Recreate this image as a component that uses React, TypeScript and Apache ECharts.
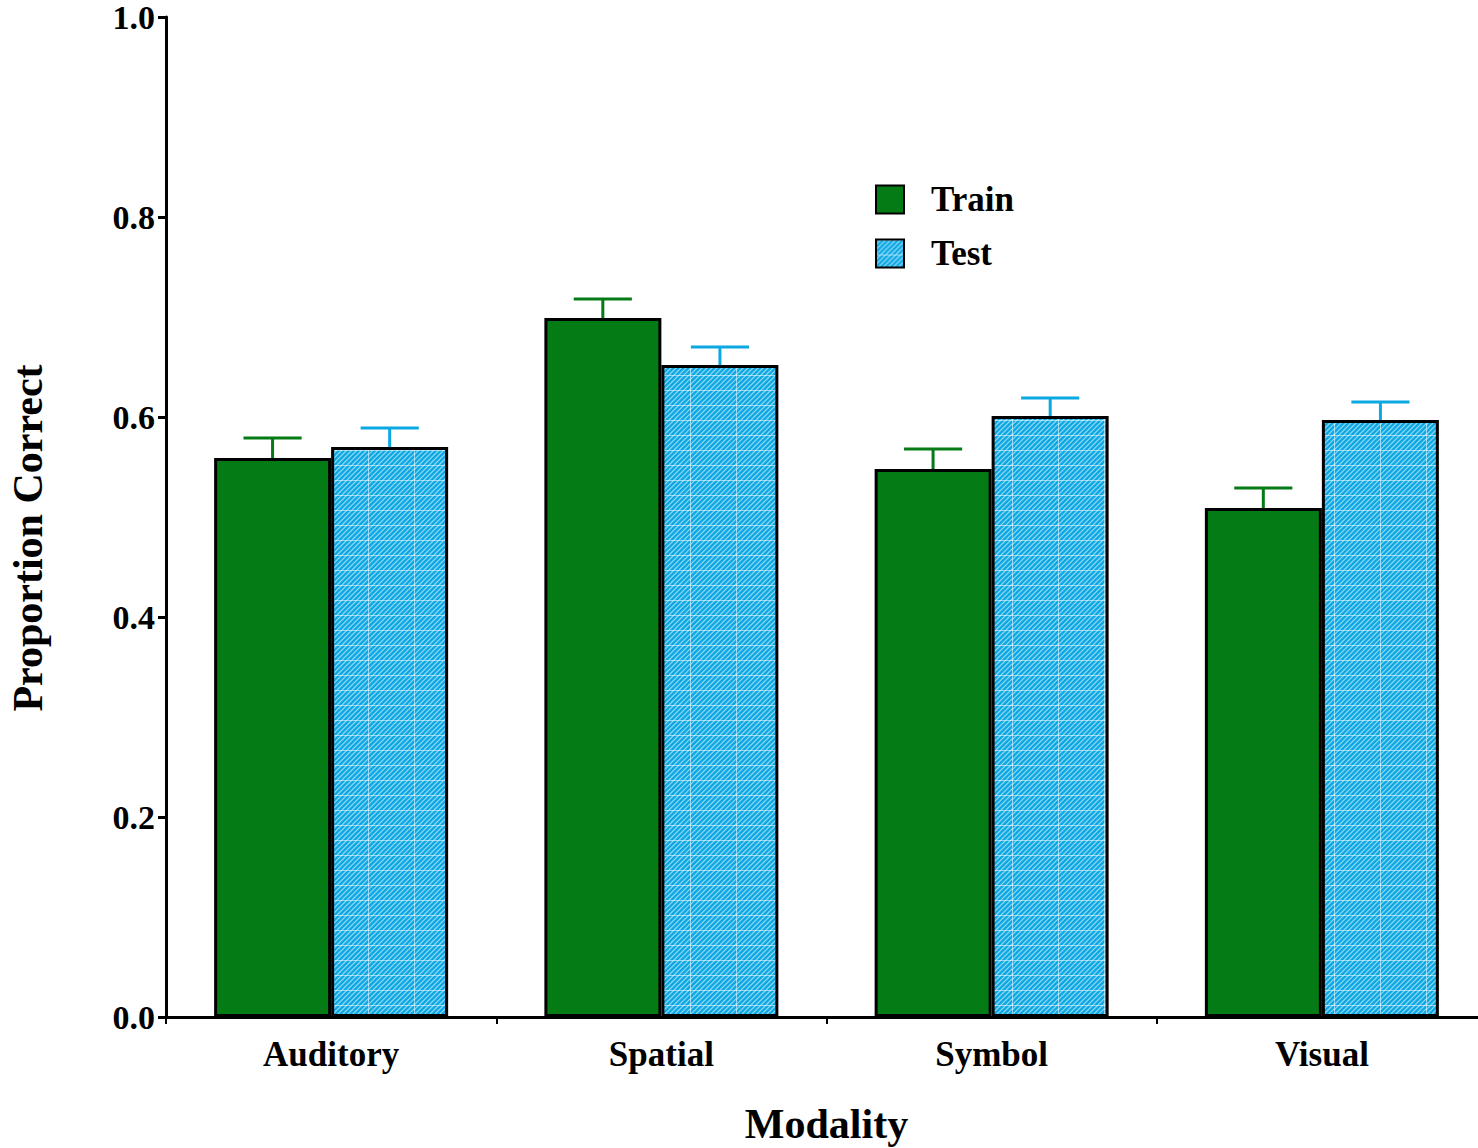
import React, { useEffect, useRef } from "react";
import * as echarts from "echarts";

const categories = ["Auditory", "Spatial", "Symbol", "Visual"];
const trainValues = [0.559, 0.699, 0.548, 0.509];
const testValues = [0.570, 0.652, 0.601, 0.597];
const trainErr = [0.020, 0.019, 0.020, 0.020];
const testErr = [0.019, 0.018, 0.018, 0.018];
const yTicks = [0, 0.2, 0.4, 0.6, 0.8, 1.0];

const GREEN = "#047b15";
const BLUE = "#0ca8e4";
const FONT = "'Liberation Serif', 'Times New Roman', serif";

function makePattern(): HTMLCanvasElement {
  const c = document.createElement("canvas");
  c.width = 46;
  c.height = 15;
  const g = c.getContext("2d")!;
  g.fillStyle = BLUE;
  g.fillRect(0, 0, 46, 15);
  g.strokeStyle = "rgba(255,255,255,0.55)";
  g.lineWidth = 1.2;
  for (let k = -20; k < 70; k += 5) {
    g.beginPath();
    g.moveTo(k, 15);
    g.lineTo(k + 15, 0);
    g.stroke();
  }
  g.strokeStyle = "rgba(255,255,255,0.55)";
  g.lineWidth = 1;
  g.beginPath();
  g.moveTo(0, 0.5);
  g.lineTo(46, 0.5);
  g.moveTo(0.5, 0);
  g.lineTo(0.5, 15);
  g.stroke();
  return c;
}

export default function App() {
  const ref = useRef<HTMLDivElement>(null);
  useEffect(() => {
    if (!ref.current) return;
    const chart = echarts.init(ref.current, undefined, { renderer: "svg" });
    const pattern = makePattern();
    const errSeries = (name: string, vals: number[], errs: number[], frac: number, color: string) => ({
      type: "custom",
      name,
      z: 5,
      encode: { x: 0, y: 1 },
      data: vals.map((v, i) => [i, v, errs[i]]),
      renderItem: (params: any, api: any) => {
        const cat = api.value(0);
        const v = api.value(1);
        const e = api.value(2);
        const band = api.size([1, 0])[0];
        const base = api.coord([cat, v]);
        const top = api.coord([cat, v + e]);
        const cx = base[0] + frac * band;
        const half = (0.176 * band) / 2;
        const style = { stroke: color, lineWidth: 3 };
        return {
          type: "group",
          children: [
            { type: "line", shape: { x1: cx, y1: base[1], x2: cx, y2: top[1] }, style },
            { type: "line", shape: { x1: cx - half, y1: top[1], x2: cx + half, y2: top[1] }, style },
          ],
        };
      },
    });
    chart.setOption({
      animation: false,
      backgroundColor: "#ffffff",
      textStyle: { fontFamily: FONT, fontWeight: "bold", color: "#000" },
      legend: {
        data: ["Train", "Test"],
        orient: "vertical",
        left: 870,
        top: 177,
        itemWidth: 28,
        itemHeight: 28,
        itemGap: 19,
        icon: "rect",
        textStyle: { fontFamily: FONT, fontWeight: "bold", fontSize: 35, color: "#000", padding: [0, 0, 0, 22] },
      },
      grid: { left: 166, top: 17, width: 1321, height: 1000, outerBoundsMode: "none", containLabel: false },
      xAxis: {
        type: "category",
        data: categories,
        name: "Modality",
        nameLocation: "middle",
        nameGap: 86,
        nameTextStyle: { fontFamily: FONT, fontWeight: "bold", fontSize: 42, color: "#000" },
        axisLine: { lineStyle: { color: "#000", width: 3 } },
        axisTick: { show: true, length: 7, lineStyle: { color: "#000", width: 2 } },
        axisLabel: { fontFamily: FONT, fontWeight: "bold", fontSize: 35, color: "#000", margin: 20 },
      },
      yAxis: {
        type: "value",
        min: 0,
        max: 1,
        interval: 0.2,
        name: "Proportion Correct",
        nameLocation: "middle",
        nameGap: 117,
        nameTextStyle: { fontFamily: FONT, fontWeight: "bold", fontSize: 42, color: "#000", padding: [0, 42, 0, 0] },
        splitLine: { show: false },
        axisLine: { show: true, lineStyle: { color: "#000", width: 3 } },
        axisTick: { show: true, length: 8, lineStyle: { color: "#000", width: 3 } },
        axisLabel: {
          fontFamily: FONT,
          fontWeight: "bold",
          fontSize: 34,
          color: "#000",
          margin: 11,
          formatter: (v: number) => (yTicks.includes(Math.round(v * 10) / 10) ? v.toFixed(1) : ""),
        },
      },
      series: [
        {
          type: "bar",
          name: "Train",
          data: trainValues,
          barWidth: 117,
          barGap: "0%",
          itemStyle: { color: GREEN, borderColor: "#000", borderWidth: 3 },
        },
        {
          type: "bar",
          name: "Test",
          data: testValues,
          barWidth: 117,
          barGap: "0%",
          itemStyle: { color: { image: pattern, repeat: "repeat" }, borderColor: "#000", borderWidth: 3 },
        },
        errSeries("TrainErr", trainValues, trainErr, -0.1773, GREEN),
        errSeries("TestErr", testValues, testErr, 0.1773, BLUE),
      ],
    } as any);
    return () => chart.dispose();
  }, []);
  return (
    <div style={{ position: "fixed", left: 0, top: 0, width: 1478, height: 1148, overflow: "hidden" }}>
      <div ref={ref} style={{ position: "absolute", left: 0, top: 0, width: 1500, height: 1148 }} />
    </div>
  );
}
